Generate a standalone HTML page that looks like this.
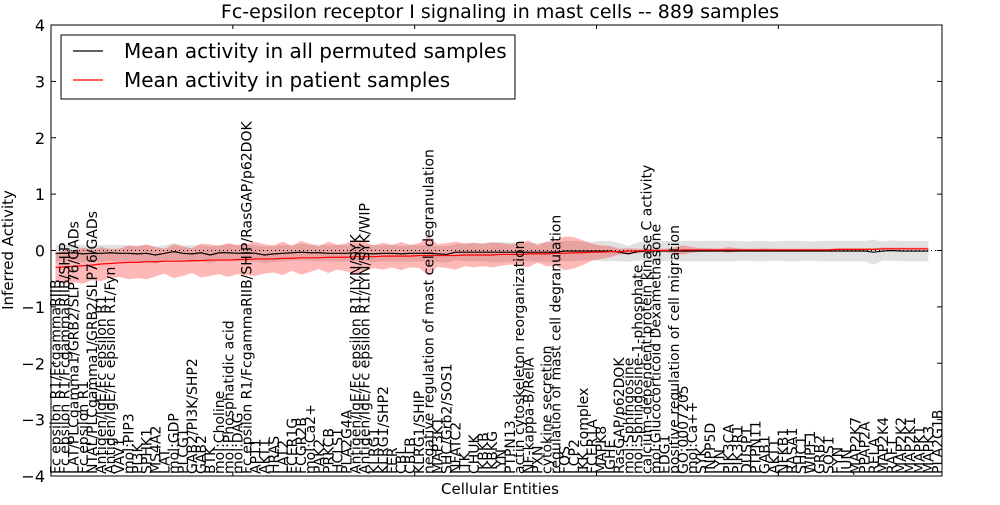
<!DOCTYPE html>
<html><head><meta charset="utf-8">
<style>
body{margin:0;background:#fff;font-family:"Liberation Sans","DejaVu Sans",sans-serif;}
svg text{font-family:"DejaVu Sans","Liberation Sans",sans-serif;}
</style></head>
<body>
<svg id="chart" width="1000" height="500" viewBox="0 0 1000 500">
<rect width="1000" height="500" fill="#fff"/>
<text x="500" y="18" text-anchor="middle" font-size="19">Fc-epsilon receptor I signaling in mast cells -- 889 samples</text>
<g id="bands"></g>
<g id="lines"></g>
<g id="xlabels"></g>
<g id="axes"></g>
<text x="13" y="250" transform="rotate(-90 13 250)" text-anchor="middle" font-size="15">Inferred Activity</text>
<text x="500" y="494" text-anchor="middle" font-size="15">Cellular Entities</text>
<g>
<rect x="61" y="35" width="454" height="64" fill="#fff" stroke="#000" stroke-width="1"/>
<line x1="73" y1="51" x2="103" y2="51" stroke="#000" stroke-width="1.2"/>
<text x="124" y="58" font-size="20">Mean activity in all permuted samples</text>
<line x1="73" y1="80" x2="103" y2="80" stroke="#f00" stroke-width="1.2"/>
<text x="124" y="87" font-size="20">Mean activity in patient samples</text>
</g>
</svg>
<script>
const entities = ["Fc epsilon R1/FcgammaRIIB","Fc epsilon R1/FcgammaRIIB/SHIP","LAT/PLCgamma1/GRB2/SLP76/GADs","Fc epsilon R1","NTAL/PLCgamma1/GRB2/SLP76/GADs","Antigen/IgE/Fc epsilon R1","Antigen/IgE/Fc epsilon R1/Fyn","VAV1","mol:PIP3","PI3K","SPHK1","MS4A2","LAT","mol:GDP","PLCG1","GAB2/PI3K/SHP2","GAB2","BTK","mol:Choline","mol:Phosphatidic acid","mol:DAG","Fc epsilon R1/FcgammaRIIB/SHIP/RasGAP/p62DOK","APT1","AKT1","HRAS","LAT2","FCER1G","FCGR2B","mol:Ca2+","PAK2","PRKCB","HCLS1","PLA2G4A","Antigen/IgE/Fc epsilon R1/LYN/SYK","Antigen/IgE/Fc epsilon R1/LYN/SYK/WIP","KLRG1","KLRG1/SHP2","FER","CBL","CBLB","KLRG1/SHIP","negative regulation of mast cell degranulation","MAP3K1","SHC/Grb2/SOS1","NFATC2","ITK","CHUK","IKBKB","IKBKG","LYN","PTPN13","actin cytoskeleton reorganization","NF-kappa-B/RelA","PXN","cytokine secretion","regulation of mast cell degranulation","FOS","LCP2","IKK complex","FCER1A","MAPK8","IGHE","RasGAP/p62DOK","mol:Sphingosine","mol:Sphingosine-1-phosphate","calcium-dependent protein kinase C activity","mol:Glucocorticoid Dexamethasone","EDG1","positive regulation of cell migration","GO:0007205","mol:Ca++","SYK","INPP5D","LYN","PIK3CA","PIK3R1","DUSP1","PTPN11","GAB1","AKT1","NFKB1","RASA1","SHC1","WIPF1","GRB2","SOS1","FYN","JUN","MAP2K7","PPAP2A","RELA","MAP2K4","RAF1","MAP2K2","MAP2K1","MAPK1","MAPK3","PLA2G1B"];
const permMean = [-0.05,-0.05,-0.04,-0.06,-0.05,-0.05,-0.04,-0.05,-0.05,-0.06,-0.05,-0.08,-0.05,-0.02,-0.05,-0.06,-0.04,-0.08,-0.04,-0.04,-0.05,-0.04,-0.05,-0.08,-0.06,-0.05,-0.04,-0.03,-0.04,-0.04,-0.05,-0.05,-0.05,-0.04,-0.05,-0.06,-0.05,-0.05,-0.06,-0.05,-0.05,-0.05,-0.06,-0.07,-0.03,-0.03,-0.03,-0.03,-0.03,-0.03,-0.03,-0.03,-0.03,-0.03,-0.03,-0.03,-0.01,-0.01,-0.01,-0.01,-0.01,-0.01,-0.03,-0.06,-0.02,-0.01,-0.01,-0.01,-0.01,-0.01,-0.01,-0.01,-0.01,-0.01,-0.01,-0.01,-0.01,-0.01,-0.01,-0.01,-0.01,-0.01,-0.01,-0.01,-0.01,-0.01,-0.01,-0.01,-0.01,-0.01,-0.03,-0.01,0.0,-0.01,-0.01,-0.01,-0.01];
const permSd = [0.14,0.15,0.14,0.15,0.14,0.15,0.14,0.15,0.14,0.15,0.14,0.15,0.14,0.15,0.14,0.15,0.14,0.15,0.14,0.15,0.14,0.15,0.14,0.15,0.14,0.15,0.14,0.15,0.14,0.15,0.14,0.15,0.14,0.15,0.14,0.15,0.14,0.15,0.14,0.15,0.14,0.15,0.14,0.15,0.14,0.16,0.16,0.16,0.18,0.18,0.17,0.18,0.16,0.17,0.17,0.18,0.18,0.18,0.17,0.16,0.18,0.18,0.16,0.14,0.16,0.18,0.18,0.18,0.17,0.18,0.18,0.18,0.18,0.18,0.18,0.18,0.17,0.18,0.18,0.17,0.18,0.18,0.18,0.17,0.18,0.18,0.18,0.18,0.18,0.18,0.22,0.17,0.18,0.18,0.18,0.18,0.18];
const patMean = [-0.30,-0.29,-0.28,-0.27,-0.26,-0.24,-0.23,-0.22,-0.21,-0.21,-0.20,-0.20,-0.19,-0.19,-0.19,-0.18,-0.18,-0.17,-0.17,-0.17,-0.16,-0.16,-0.15,-0.15,-0.15,-0.14,-0.14,-0.13,-0.13,-0.13,-0.12,-0.12,-0.12,-0.11,-0.11,-0.11,-0.10,-0.10,-0.10,-0.10,-0.09,-0.09,-0.09,-0.09,-0.09,-0.08,-0.08,-0.08,-0.08,-0.07,-0.07,-0.07,-0.06,-0.06,-0.06,-0.05,-0.05,-0.04,-0.04,-0.03,-0.03,-0.02,-0.02,-0.01,-0.01,0.0,0.0,0.0,0.0,0.01,0.01,0.01,0.01,0.01,0.01,0.01,0.01,0.01,0.01,0.01,0.01,0.01,0.01,0.01,0.01,0.01,0.02,0.02,0.02,0.02,0.02,0.03,0.03,0.03,0.03,0.03,0.03];
const patSd = [0.25,0.3,0.28,0.32,0.27,0.3,0.26,0.25,0.3,0.28,0.31,0.26,0.22,0.3,0.26,0.22,0.3,0.28,0.25,0.3,0.26,0.28,0.3,0.26,0.24,0.3,0.22,0.3,0.25,0.2,0.28,0.22,0.25,0.3,0.26,0.2,0.24,0.2,0.25,0.2,0.22,0.35,0.2,0.22,0.25,0.2,0.22,0.2,0.22,0.2,0.18,0.2,0.24,0.15,0.22,0.22,0.3,0.28,0.22,0.15,0.12,0.1,0.05,0.05,0.04,0.03,0.03,0.03,0.05,0.08,0.05,0.03,0.03,0.02,0.05,0.03,0.02,0.02,0.03,0.02,0.02,0.02,0.02,0.02,0.02,0.02,0.02,0.02,0.02,0.02,0.02,0.02,0.02,0.02,0.02,0.02,0.02];
const yTicks = [-4,-3,-2,-1,0,1,2,3,4];

const L=51,R=942,T=25,B=476,N=entities.length;
const xs=i=>L+(i+0.5)*(R-L)/N;
const ys=v=>T+(4-v)*(B-T)/8;
const NS='http://www.w3.org/2000/svg';
function mk(tag,attrs,parent){const e=document.createElementNS(NS,tag);for(const k in attrs)e.setAttribute(k,attrs[k]);parent.appendChild(e);return e;}
const bands=document.getElementById('bands'),lines=document.getElementById('lines'),xl=document.getElementById('xlabels'),ax=document.getElementById('axes');
function band(m,s,fill,op,name){
  let up=m.map((v,i)=>xs(i)+','+ys(v+s[i]));
  let dn=m.map((v,i)=>xs(i)+','+ys(v-s[i])).reverse();
  const p=mk('polygon',{points:up.concat(dn).join(' '),fill:fill,'fill-opacity':op},bands);
  
  
}
band(permMean,permSd,'#888',0.25,'permuted-band');
band(patMean,patSd,'#f00',0.28,'patient-band');
const z=mk('line',{x1:L,x2:R,y1:ys(0),y2:ys(0),stroke:'#000','stroke-dasharray':'1,3','stroke-width':1},lines);


const pl=mk('polyline',{points:permMean.map((v,i)=>xs(i)+','+ys(v)).join(' '),fill:'none',stroke:'#000','stroke-width':1.2},lines);


const rl=mk('polyline',{points:patMean.map((v,i)=>xs(i)+','+ys(v)).join(' '),fill:'none',stroke:'#f00','stroke-width':1.2},lines);


entities.forEach((t,i)=>{
  const x=xs(i)+5;
  const e=mk('text',{x:x,y:474,transform:`rotate(-90 ${x} 474)`,'font-size':14},xl);
  e.textContent=t;
  
  
});
const fr=mk('rect',{x:L,y:T,width:R-L,height:B-T,fill:'none',stroke:'#000','stroke-width':1},ax);


yTicks.forEach(v=>{
  const y=ys(v);
  mk('line',{x1:L,x2:L+5,y1:y,y2:y,stroke:'#000'},ax);
  mk('line',{x1:R-5,x2:R,y1:y,y2:y,stroke:'#000'},ax);
  const t=mk('text',{x:L-6,y:y+6,'text-anchor':'end','font-size':16},ax);
  t.textContent=v<0?'\u2212'+(-v):String(v);
  
  
});
for(let k=0;k<=N;k+=20){const x=L+k*(R-L)/N;mk('line',{x1:x,x2:x,y1:T,y2:T+4,stroke:'#000'},ax);mk('line',{x1:x,x2:x,y1:B-4,y2:B,stroke:'#000'},ax);}
</script>
</body></html>
